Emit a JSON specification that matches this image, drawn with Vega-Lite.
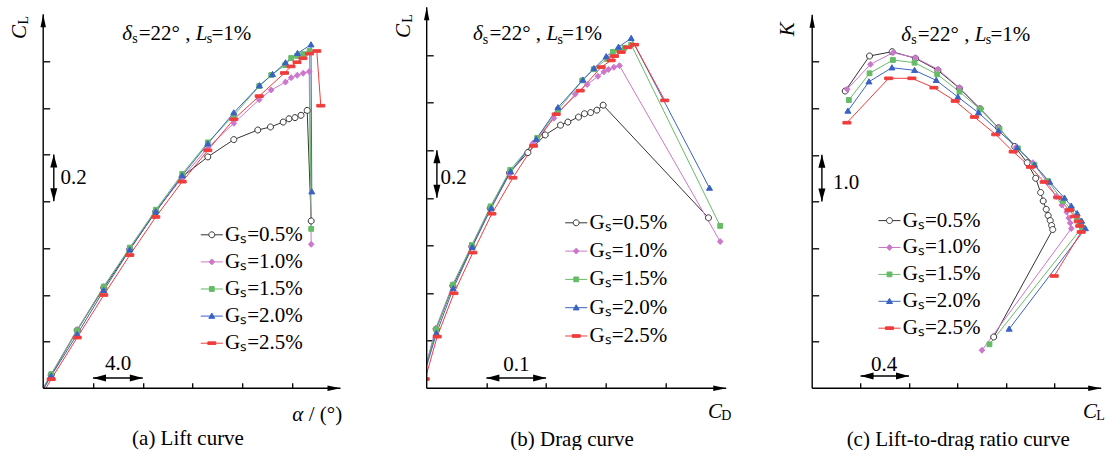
{
"$schema":"https://vega.github.io/schema/vega-lite/v6.json",
"background":"white",
"padding":{"left":8.2,"top":6.3,"right":5,"bottom":0},
"autosize":{"type":"pad"},
"bounds":"flush",
"spacing":85.5,
"config":{
 "view":{"stroke":null},
 "axis":{"labels":false,"domain":false,"grid":false,"ticks":true,"tickColor":"black","tickWidth":1.3},
 "axisX":{"tickSize":-5.5},
 "axisY":{"tickSize":-6.5},
 "text":{"font":"Liberation Serif","fontSize":21,"color":"black","align":"left","baseline":"alphabetic"},
 "rule":{"color":"black","strokeWidth":1.4},
 "legend":{"orient":"none","labelFont":"Liberation Serif","labelFontSize":21,"labelColor":"black","padding":0,"labelOffset":2.8,"symbolOffset":0,"symbolSize":92,"symbolStrokeWidth":1}
},
"resolve":{"scale":{"x":"independent","y":"independent","color":"independent","shape":"independent","fill":"independent","stroke":"independent"},"legend":{"shape":"independent","fill":"independent","stroke":"independent","color":"independent"}},
"datasets":{
"lift":[
{"g":"G\u209b=0.5%","i":0,"alpha":-5.4,"CL":-0.130},{"g":"G\u209b=0.5%","i":1,"alpha":-3.357,"CL":0.057},{"g":"G\u209b=0.5%","i":2,"alpha":-1.269,"CL":0.248},{"g":"G\u209b=0.5%","i":3,"alpha":0.867,"CL":0.430},{"g":"G\u209b=0.5%","i":4,"alpha":2.956,"CL":0.595},{"g":"G\u209b=0.5%","i":5,"alpha":5.044,"CL":0.756},{"g":"G\u209b=0.5%","i":6,"alpha":7.165,"CL":0.905},{"g":"G\u209b=0.5%","i":7,"alpha":9.221,"CL":0.990},{"g":"G\u209b=0.5%","i":8,"alpha":11.309,"CL":1.064},{"g":"G\u209b=0.5%","i":9,"alpha":13.237,"CL":1.105},{"g":"G\u209b=0.5%","i":10,"alpha":14.257,"CL":1.118},{"g":"G\u209b=0.5%","i":11,"alpha":15.277,"CL":1.139},{"g":"G\u209b=0.5%","i":12,"alpha":15.743,"CL":1.153},{"g":"G\u209b=0.5%","i":13,"alpha":16.225,"CL":1.158},{"g":"G\u209b=0.5%","i":14,"alpha":16.707,"CL":1.168},{"g":"G\u209b=0.5%","i":15,"alpha":17.205,"CL":1.189},{"g":"G\u209b=0.5%","i":16,"alpha":17.526,"CL":0.716},
{"g":"G\u209b=1.0%","i":0,"alpha":-5.4,"CL":-0.126},{"g":"G\u209b=1.0%","i":1,"alpha":-3.357,"CL":0.061},{"g":"G\u209b=1.0%","i":2,"alpha":-1.269,"CL":0.252},{"g":"G\u209b=1.0%","i":3,"alpha":0.867,"CL":0.435},{"g":"G\u209b=1.0%","i":4,"alpha":2.956,"CL":0.599},{"g":"G\u209b=1.0%","i":5,"alpha":5.044,"CL":0.759},{"g":"G\u209b=1.0%","i":6,"alpha":7.165,"CL":0.901},{"g":"G\u209b=1.0%","i":7,"alpha":9.221,"CL":1.029},{"g":"G\u209b=1.0%","i":8,"alpha":11.309,"CL":1.134},{"g":"G\u209b=1.0%","i":9,"alpha":13.349,"CL":1.235},{"g":"G\u209b=1.0%","i":10,"alpha":14.313,"CL":1.276},{"g":"G\u209b=1.0%","i":11,"alpha":15.462,"CL":1.310},{"g":"G\u209b=1.0%","i":12,"alpha":15.920,"CL":1.329},{"g":"G\u209b=1.0%","i":13,"alpha":16.402,"CL":1.339},{"g":"G\u209b=1.0%","i":14,"alpha":16.884,"CL":1.348},{"g":"G\u209b=1.0%","i":15,"alpha":17.365,"CL":1.355},{"g":"G\u209b=1.0%","i":16,"alpha":17.526,"CL":0.616},
{"g":"G\u209b=1.5%","i":0,"alpha":-5.4,"CL":-0.127},{"g":"G\u209b=1.5%","i":1,"alpha":-3.357,"CL":0.060},{"g":"G\u209b=1.5%","i":2,"alpha":-1.269,"CL":0.248},{"g":"G\u209b=1.5%","i":3,"alpha":0.867,"CL":0.435},{"g":"G\u209b=1.5%","i":4,"alpha":2.956,"CL":0.602},{"g":"G\u209b=1.5%","i":5,"alpha":5.044,"CL":0.764},{"g":"G\u209b=1.5%","i":6,"alpha":7.165,"CL":0.917},{"g":"G\u209b=1.5%","i":7,"alpha":9.221,"CL":1.052},{"g":"G\u209b=1.5%","i":8,"alpha":11.309,"CL":1.168},{"g":"G\u209b=1.5%","i":9,"alpha":13.349,"CL":1.293},{"g":"G\u209b=1.5%","i":10,"alpha":14.313,"CL":1.340},{"g":"G\u209b=1.5%","i":11,"alpha":15.438,"CL":1.383},{"g":"G\u209b=1.5%","i":12,"alpha":15.920,"CL":1.413},{"g":"G\u209b=1.5%","i":13,"alpha":16.402,"CL":1.422},{"g":"G\u209b=1.5%","i":14,"alpha":16.884,"CL":1.430},{"g":"G\u209b=1.5%","i":15,"alpha":17.39,"CL":1.443},{"g":"G\u209b=1.5%","i":16,"alpha":17.526,"CL":0.682},
{"g":"G\u209b=2.0%","i":0,"alpha":-5.4,"CL":-0.134},{"g":"G\u209b=2.0%","i":1,"alpha":-3.357,"CL":0.053},{"g":"G\u209b=2.0%","i":2,"alpha":-1.269,"CL":0.231},{"g":"G\u209b=2.0%","i":3,"alpha":0.867,"CL":0.419},{"g":"G\u209b=2.0%","i":4,"alpha":2.956,"CL":0.593},{"g":"G\u209b=2.0%","i":5,"alpha":5.044,"CL":0.756},{"g":"G\u209b=2.0%","i":6,"alpha":7.165,"CL":0.910},{"g":"G\u209b=2.0%","i":7,"alpha":9.221,"CL":1.046},{"g":"G\u209b=2.0%","i":8,"alpha":11.309,"CL":1.179},{"g":"G\u209b=2.0%","i":9,"alpha":13.373,"CL":1.295},{"g":"G\u209b=2.0%","i":10,"alpha":14.418,"CL":1.343},{"g":"G\u209b=2.0%","i":11,"alpha":15.462,"CL":1.393},{"g":"G\u209b=2.0%","i":12,"alpha":16.426,"CL":1.433},{"g":"G\u209b=2.0%","i":13,"alpha":17.510,"CL":1.470},{"g":"G\u209b=2.0%","i":14,"alpha":17.574,"CL":0.841},
{"g":"G\u209b=2.5%","i":0,"alpha":-5.4,"CL":-0.148},{"g":"G\u209b=2.5%","i":1,"alpha":-3.357,"CL":0.039},{"g":"G\u209b=2.5%","i":2,"alpha":-1.269,"CL":0.217},{"g":"G\u209b=2.5%","i":3,"alpha":0.867,"CL":0.399},{"g":"G\u209b=2.5%","i":4,"alpha":2.956,"CL":0.570},{"g":"G\u209b=2.5%","i":5,"alpha":5.044,"CL":0.733},{"g":"G\u209b=2.5%","i":6,"alpha":7.165,"CL":0.884},{"g":"G\u209b=2.5%","i":7,"alpha":9.221,"CL":1.018},{"g":"G\u209b=2.5%","i":8,"alpha":11.309,"CL":1.151},{"g":"G\u209b=2.5%","i":9,"alpha":13.349,"CL":1.250},{"g":"G\u209b=2.5%","i":10,"alpha":15.382,"CL":1.349},{"g":"G\u209b=2.5%","i":11,"alpha":15.904,"CL":1.377},{"g":"G\u209b=2.5%","i":12,"alpha":16.386,"CL":1.395},{"g":"G\u209b=2.5%","i":13,"alpha":16.867,"CL":1.412},{"g":"G\u209b=2.5%","i":14,"alpha":17.39,"CL":1.432},{"g":"G\u209b=2.5%","i":15,"alpha":17.976,"CL":1.443},{"g":"G\u209b=2.5%","i":16,"alpha":18.297,"CL":1.209}
],
"drag":[
{"g":"G\u209b=0.5%","i":1,"CD":0.015,"CL":0.057},{"g":"G\u209b=0.5%","i":2,"CD":0.0359,"CL":0.248},{"g":"G\u209b=0.5%","i":3,"CD":0.0639,"CL":0.430},{"g":"G\u209b=0.5%","i":4,"CD":0.0957,"CL":0.595},{"g":"G\u209b=0.5%","i":5,"CD":0.1264,"CL":0.756},{"g":"G\u209b=0.5%","i":6,"CD":0.1587,"CL":0.905},{"g":"G\u209b=0.5%","i":7,"CD":0.1895,"CL":0.990},{"g":"G\u209b=0.5%","i":8,"CD":0.2185,"CL":1.064},{"g":"G\u209b=0.5%","i":9,"CD":0.2441,"CL":1.105},{"g":"G\u209b=0.5%","i":10,"CD":0.2565,"CL":1.118},{"g":"G\u209b=0.5%","i":11,"CD":0.2743,"CL":1.139},{"g":"G\u209b=0.5%","i":12,"CD":0.2843,"CL":1.153},{"g":"G\u209b=0.5%","i":13,"CD":0.2947,"CL":1.158},{"g":"G\u209b=0.5%","i":14,"CD":0.3051,"CL":1.168},{"g":"G\u209b=0.5%","i":15,"CD":0.3156,"CL":1.189},{"g":"G\u209b=0.5%","i":16,"CD":0.4920,"CL":0.716},
{"g":"G\u209b=1.0%","i":1,"CD":0.015,"CL":0.061},{"g":"G\u209b=1.0%","i":2,"CD":0.0351,"CL":0.252},{"g":"G\u209b=1.0%","i":3,"CD":0.0636,"CL":0.435},{"g":"G\u209b=1.0%","i":4,"CD":0.0954,"CL":0.599},{"g":"G\u209b=1.0%","i":5,"CD":0.1272,"CL":0.759},{"g":"G\u209b=1.0%","i":6,"CD":0.1590,"CL":0.901},{"g":"G\u209b=1.0%","i":7,"CD":0.1979,"CL":1.029},{"g":"G\u209b=1.0%","i":8,"CD":0.2331,"CL":1.134},{"g":"G\u209b=1.0%","i":9,"CD":0.2687,"CL":1.235},{"g":"G\u209b=1.0%","i":10,"CD":0.2888,"CL":1.276},{"g":"G\u209b=1.0%","i":11,"CD":0.3068,"CL":1.310},{"g":"G\u209b=1.0%","i":12,"CD":0.3168,"CL":1.329},{"g":"G\u209b=1.0%","i":13,"CD":0.3245,"CL":1.339},{"g":"G\u209b=1.0%","i":14,"CD":0.3336,"CL":1.348},{"g":"G\u209b=1.0%","i":15,"CD":0.3429,"CL":1.355},{"g":"G\u209b=1.0%","i":16,"CD":0.5116,"CL":0.616},
{"g":"G\u209b=1.5%","i":1,"CD":0.015,"CL":0.060},{"g":"G\u209b=1.5%","i":2,"CD":0.0359,"CL":0.248},{"g":"G\u209b=1.5%","i":3,"CD":0.0639,"CL":0.435},{"g":"G\u209b=1.5%","i":4,"CD":0.0957,"CL":0.602},{"g":"G\u209b=1.5%","i":5,"CD":0.1269,"CL":0.764},{"g":"G\u209b=1.5%","i":6,"CD":0.1599,"CL":0.917},{"g":"G\u209b=1.5%","i":7,"CD":0.2051,"CL":1.052},{"g":"G\u209b=1.5%","i":8,"CD":0.2398,"CL":1.168},{"g":"G\u209b=1.5%","i":9,"CD":0.2805,"CL":1.293},{"g":"G\u209b=1.5%","i":10,"CD":0.2997,"CL":1.340},{"g":"G\u209b=1.5%","i":11,"CD":0.3223,"CL":1.383},{"g":"G\u209b=1.5%","i":12,"CD":0.3319,"CL":1.413},{"g":"G\u209b=1.5%","i":13,"CD":0.3413,"CL":1.422},{"g":"G\u209b=1.5%","i":14,"CD":0.3513,"CL":1.430},{"g":"G\u209b=1.5%","i":15,"CD":0.3625,"CL":1.443},{"g":"G\u209b=1.5%","i":16,"CD":0.5116,"CL":0.682},
{"g":"G\u209b=2.0%","i":1,"CD":0.015,"CL":0.053},{"g":"G\u209b=2.0%","i":2,"CD":0.0364,"CL":0.231},{"g":"G\u209b=2.0%","i":3,"CD":0.0644,"CL":0.419},{"g":"G\u209b=2.0%","i":4,"CD":0.0962,"CL":0.593},{"g":"G\u209b=2.0%","i":5,"CD":0.1280,"CL":0.756},{"g":"G\u209b=2.0%","i":6,"CD":0.1607,"CL":0.910},{"g":"G\u209b=2.0%","i":7,"CD":0.2034,"CL":1.046},{"g":"G\u209b=2.0%","i":8,"CD":0.2398,"CL":1.179},{"g":"G\u209b=2.0%","i":9,"CD":0.2816,"CL":1.295},{"g":"G\u209b=2.0%","i":10,"CD":0.3001,"CL":1.343},{"g":"G\u209b=2.0%","i":11,"CD":0.3207,"CL":1.393},{"g":"G\u209b=2.0%","i":12,"CD":0.3413,"CL":1.433},{"g":"G\u209b=2.0%","i":13,"CD":0.3625,"CL":1.470},{"g":"G\u209b=2.0%","i":14,"CD":0.4937,"CL":0.841},
{"g":"G\u209b=2.5%","i":1,"CD":0.0175,"CL":0.039},{"g":"G\u209b=2.5%","i":2,"CD":0.0376,"CL":0.217},{"g":"G\u209b=2.5%","i":3,"CD":0.0656,"CL":0.399},{"g":"G\u209b=2.5%","i":4,"CD":0.0974,"CL":0.570},{"g":"G\u209b=2.5%","i":5,"CD":0.1292,"CL":0.733},{"g":"G\u209b=2.5%","i":6,"CD":0.1644,"CL":0.884},{"g":"G\u209b=2.5%","i":7,"CD":0.1989,"CL":1.018},{"g":"G\u209b=2.5%","i":8,"CD":0.2369,"CL":1.151},{"g":"G\u209b=2.5%","i":9,"CD":0.2771,"CL":1.250},{"g":"G\u209b=2.5%","i":10,"CD":0.3123,"CL":1.349},{"g":"G\u209b=2.5%","i":11,"CD":0.3290,"CL":1.377},{"g":"G\u209b=2.5%","i":12,"CD":0.3346,"CL":1.395},{"g":"G\u209b=2.5%","i":13,"CD":0.3458,"CL":1.412},{"g":"G\u209b=2.5%","i":14,"CD":0.3567,"CL":1.432},{"g":"G\u209b=2.5%","i":15,"CD":0.3681,"CL":1.443},{"g":"G\u209b=2.5%","i":16,"CD":0.4187,"CL":1.209}
],
"ratio":[
{"g":"G\u209b=0.5%","i":1,"CL":-0.527,"K":6.366},{"g":"G\u209b=0.5%","i":2,"CL":-0.326,"K":7.116},{"g":"G\u209b=0.5%","i":3,"CL":-0.139,"K":7.208},{"g":"G\u209b=0.5%","i":4,"CL":0.054,"K":7.066},{"g":"G\u209b=0.5%","i":5,"CL":0.239,"K":6.809},{"g":"G\u209b=0.5%","i":6,"CL":0.417,"K":6.424},{"g":"G\u209b=0.5%","i":7,"CL":0.588,"K":5.987},{"g":"G\u209b=0.5%","i":8,"CL":0.740,"K":5.580},{"g":"G\u209b=0.5%","i":9,"CL":0.874,"K":5.178},{"g":"G\u209b=0.5%","i":10,"CL":0.977,"K":4.831},{"g":"G\u209b=0.5%","i":11,"CL":1.047,"K":4.497},{"g":"G\u209b=0.5%","i":12,"CL":1.088,"K":4.193},{"g":"G\u209b=0.5%","i":13,"CL":1.109,"K":4.011},{"g":"G\u209b=0.5%","i":14,"CL":1.134,"K":3.833},{"g":"G\u209b=0.5%","i":15,"CL":1.150,"K":3.700},{"g":"G\u209b=0.5%","i":16,"CL":1.167,"K":3.593},{"g":"G\u209b=0.5%","i":17,"CL":1.179,"K":3.486},{"g":"G\u209b=0.5%","i":18,"CL":1.188,"K":3.400},{"g":"G\u209b=0.5%","i":19,"CL":0.700,"K":1.099},
{"g":"G\u209b=1.0%","i":1,"CL":-0.511,"K":6.403},{"g":"G\u209b=1.0%","i":2,"CL":-0.318,"K":6.938},{"g":"G\u209b=1.0%","i":3,"CL":-0.133,"K":7.186},{"g":"G\u209b=1.0%","i":4,"CL":0.054,"K":7.079},{"g":"G\u209b=1.0%","i":5,"CL":0.239,"K":6.831},{"g":"G\u209b=1.0%","i":6,"CL":0.417,"K":6.437},{"g":"G\u209b=1.0%","i":7,"CL":0.588,"K":5.996},{"g":"G\u209b=1.0%","i":8,"CL":0.740,"K":5.580},{"g":"G\u209b=1.0%","i":9,"CL":0.886,"K":5.167},{"g":"G\u209b=1.0%","i":10,"CL":1.024,"K":4.831},{"g":"G\u209b=1.0%","i":11,"CL":1.134,"K":4.439},{"g":"G\u209b=1.0%","i":12,"CL":1.217,"K":4.107},{"g":"G\u209b=1.0%","i":13,"CL":1.262,"K":3.925},{"g":"G\u209b=1.0%","i":14,"CL":1.303,"K":3.775},{"g":"G\u209b=1.0%","i":15,"CL":1.320,"K":3.647},{"g":"G\u209b=1.0%","i":16,"CL":1.332,"K":3.540},{"g":"G\u209b=1.0%","i":17,"CL":1.341,"K":3.422},{"g":"G\u209b=1.0%","i":18,"CL":0.603,"K":0.814},
{"g":"G\u209b=1.5%","i":1,"CL":-0.497,"K":6.173},{"g":"G\u209b=1.5%","i":2,"CL":-0.326,"K":6.745},{"g":"G\u209b=1.5%","i":3,"CL":-0.133,"K":7.030},{"g":"G\u209b=1.5%","i":4,"CL":0.046,"K":6.972},{"g":"G\u209b=1.5%","i":5,"CL":0.233,"K":6.724},{"g":"G\u209b=1.5%","i":6,"CL":0.417,"K":6.351},{"g":"G\u209b=1.5%","i":7,"CL":0.588,"K":5.974},{"g":"G\u209b=1.5%","i":8,"CL":0.748,"K":5.546},{"g":"G\u209b=1.5%","i":9,"CL":0.900,"K":5.139},{"g":"G\u209b=1.5%","i":10,"CL":1.037,"K":4.782},{"g":"G\u209b=1.5%","i":11,"CL":1.148,"K":4.439},{"g":"G\u209b=1.5%","i":12,"CL":1.272,"K":4.011},{"g":"G\u209b=1.5%","i":13,"CL":1.341,"K":3.833},{"g":"G\u209b=1.5%","i":14,"CL":1.390,"K":3.640},{"g":"G\u209b=1.5%","i":15,"CL":1.409,"K":3.546},{"g":"G\u209b=1.5%","i":16,"CL":1.429,"K":3.439},{"g":"G\u209b=1.5%","i":17,"CL":0.665,"K":0.942},
{"g":"G\u209b=2.0%","i":1,"CL":-0.505,"K":5.938},{"g":"G\u209b=2.0%","i":2,"CL":-0.331,"K":6.565},{"g":"G\u209b=2.0%","i":3,"CL":-0.141,"K":6.865},{"g":"G\u209b=2.0%","i":4,"CL":0.046,"K":6.809},{"g":"G\u209b=2.0%","i":5,"CL":0.225,"K":6.595},{"g":"G\u209b=2.0%","i":6,"CL":0.404,"K":6.238},{"g":"G\u209b=2.0%","i":7,"CL":0.574,"K":5.902},{"g":"G\u209b=2.0%","i":8,"CL":0.740,"K":5.510},{"g":"G\u209b=2.0%","i":9,"CL":0.894,"K":5.152},{"g":"G\u209b=2.0%","i":10,"CL":1.037,"K":4.782},{"g":"G\u209b=2.0%","i":11,"CL":1.163,"K":4.418},{"g":"G\u209b=2.0%","i":12,"CL":1.285,"K":4.075},{"g":"G\u209b=2.0%","i":13,"CL":1.341,"K":3.904},{"g":"G\u209b=2.0%","i":14,"CL":1.390,"K":3.743},{"g":"G\u209b=2.0%","i":15,"CL":1.427,"K":3.582},{"g":"G\u209b=2.0%","i":16,"CL":1.458,"K":3.422},{"g":"G\u209b=2.0%","i":17,"CL":0.828,"K":1.270},
{"g":"G\u209b=2.5%","i":1,"CL":-0.513,"K":5.687},{"g":"G\u209b=2.5%","i":2,"CL":-0.168,"K":6.638},{"g":"G\u209b=2.5%","i":3,"CL":0.024,"K":6.638},{"g":"G\u209b=2.5%","i":4,"CL":0.206,"K":6.437},{"g":"G\u209b=2.5%","i":5,"CL":0.382,"K":6.152},{"g":"G\u209b=2.5%","i":6,"CL":0.541,"K":5.809},{"g":"G\u209b=2.5%","i":7,"CL":0.717,"K":5.435},{"g":"G\u209b=2.5%","i":8,"CL":0.861,"K":5.066},{"g":"G\u209b=2.5%","i":9,"CL":1.004,"K":4.739},{"g":"G\u209b=2.5%","i":10,"CL":1.117,"K":4.418},{"g":"G\u209b=2.5%","i":11,"CL":1.229,"K":4.086},{"g":"G\u209b=2.5%","i":12,"CL":1.324,"K":3.818},{"g":"G\u209b=2.5%","i":13,"CL":1.369,"K":3.679},{"g":"G\u209b=2.5%","i":14,"CL":1.398,"K":3.572},{"g":"G\u209b=2.5%","i":15,"CL":1.411,"K":3.475},{"g":"G\u209b=2.5%","i":16,"CL":1.423,"K":3.347},{"g":"G\u209b=2.5%","i":17,"CL":1.200,"K":2.405}
]
},
"hconcat":[
{"width":297.3,"height":381,"data":{"values":[{}]},"layer":[
{"data":{"name":"lift"},"mark":{"type":"line","clip":true,"strokeWidth":1},"encoding":{
 "x":{"field":"alpha","type":"quantitative","scale":{"domain":[-4,19.88],"nice":false,"zero":false},"axis":{"values":[0,4,8,12,16],"title":null}},
 "y":{"field":"CL","type":"quantitative","scale":{"domain":[0,1.63],"nice":false,"zero":false},"axis":{"values":[0.2,0.4,0.6,0.8,1,1.2,1.4],"title":null}},
 "color":{"field":"g","type":"nominal","title":null,"scale":{"range":["#333333","#cc77cc","#66bb66","#3a62c4","#f03c3c"]},"legend":null},
 "order":{"field":"i","type":"quantitative"}}},
{"data":{"name":"lift"},"mark":{"type":"point","clip":true,"filled":true,"opacity":1,"size":64,"strokeWidth":1},"encoding":{
 "x":{"field":"alpha","type":"quantitative"},
 "y":{"field":"CL","type":"quantitative"},
 "shape":{"field":"g","type":"nominal","title":null,"scale":{"range":["M0.75,0A0.75,0.75,0,1,1,-0.75,0A0.75,0.75,0,1,1,0.75,0Z","M0,-0.75L0.7,0L0,0.75L-0.7,0Z","M-0.6,-0.6L0.6,-0.6L0.6,0.6L-0.6,0.6Z","M0,-0.75L0.75,0.55L-0.75,0.55Z","M-1,-0.33L1,-0.33L1,0.33L-1,0.33Z"]},"legend":null},
 "fill":{"field":"g","type":"nominal","title":null,"scale":{"domain":["G\u209b=0.5%","G\u209b=1.0%","G\u209b=1.5%","G\u209b=2.0%","G\u209b=2.5%"],"range":["white","#cc77cc","#66bb66","#3a62c4","#f03c3c"]}},
 "stroke":{"field":"g","type":"nominal","title":null,"scale":{"domain":["G\u209b=0.5%","G\u209b=1.0%","G\u209b=1.5%","G\u209b=2.0%","G\u209b=2.5%"],"range":["#333333","#cc77cc","#66bb66","#3a62c4","#f03c3c"]},"legend":{"orient":"none","legendX":158.1,"legendY":217,"rowPadding":5.1,"encoding":{"symbols":{"shape":{"value":{"expr":"datum.value === 'G\u209b=0.5%' ? 'M-2.3,0L-0.62,0M0.62,0L2.3,0M0.62,0A0.62,0.62,0,1,1,-0.62,0A0.62,0.62,0,1,1,0.62,0Z' : datum.value === 'G\u209b=1.0%' ? 'M-2.3,0L2.3,0M0,-0.62L0.58,0L0,0.62L-0.58,0Z' : datum.value === 'G\u209b=1.5%' ? 'M-2.3,0L2.3,0M-0.5,-0.5L0.5,-0.5L0.5,0.5L-0.5,0.5Z' : datum.value === 'G\u209b=2.0%' ? 'M-2.3,0L2.3,0M0,-0.62L0.62,0.46L-0.62,0.46Z' : 'M-2.3,0L2.3,0M-0.83,-0.28L0.83,-0.28L0.83,0.28L-0.83,0.28Z'"}},"size":{"value":92}}}}}}},
{"mark":"rule","encoding":{"x":{"datum":-4},"y":{"datum":0},"y2":{"datum":1.6}}},
{"mark":"rule","encoding":{"x":{"datum":-4},"x2":{"datum":19.88},"y":{"datum":0}}},
{"mark":{"type":"point","shape":"M0,0L-0.5,2.4L0.5,2.4Z","size":117,"filled":true,"color":"black","opacity":1,"strokeWidth":0},"encoding":{"x":{"datum":-4},"y":{"datum":1.6}}},
{"mark":{"type":"point","shape":"M0,0L-2.4,-0.5L-2.4,0.5Z","size":117,"filled":true,"color":"black","opacity":1,"strokeWidth":0},"encoding":{"x":{"datum":19.88},"y":{"datum":0}}},
{"mark":"rule","encoding":{"x":{"datum":0},"x2":{"datum":4},"y":{"datum":0.0441}}},
{"mark":{"type":"point","shape":"M0,0L2.4,-0.65L2.4,0.65Z","size":117,"filled":true,"color":"black","opacity":1,"strokeWidth":0},"encoding":{"x":{"datum":0},"y":{"datum":0.0441}}},
{"mark":{"type":"point","shape":"M0,0L-2.4,-0.65L-2.4,0.65Z","size":117,"filled":true,"color":"black","opacity":1,"strokeWidth":0},"encoding":{"x":{"datum":4},"y":{"datum":0.0441}}},
{"mark":"rule","encoding":{"x":{"datum":-3.149},"y":{"datum":0.8},"y2":{"datum":1.0}}},
{"mark":{"type":"point","shape":"M0,0L-0.65,2.4L0.65,2.4Z","size":117,"filled":true,"color":"black","opacity":1,"strokeWidth":0},"encoding":{"x":{"datum":-3.149},"y":{"datum":1.0}}},
{"mark":{"type":"point","shape":"M0,0L-0.65,-2.4L0.65,-2.4Z","size":117,"filled":true,"color":"black","opacity":1,"strokeWidth":0},"encoding":{"x":{"datum":-3.149},"y":{"datum":0.8}}},
{"mark":{"type":"text","text":"4.0","align":"center"},"encoding":{"x":{"datum":2.008},"y":{"datum":0.0783}}},
{"mark":{"type":"text","text":"0.2"},"encoding":{"x":{"datum":-2.61},"y":{"datum":0.8727}}},
{"mark":{"type":"text","text":"C","fontStyle":"italic","angle":270,"align":"center"},"encoding":{"x":{"datum":-5.42},"y":{"datum":1.5243}}},
{"mark":{"type":"text","text":"L","fontSize":14,"angle":270,"align":"center"},"encoding":{"x":{"datum":-5.261},"y":{"datum":1.5748}}},
{"mark":{"type":"text","text":"\u03b1","fontStyle":"italic"},"encoding":{"x":{"datum":16.0},"y":{"datum":-0.1378}}},
{"mark":{"type":"text","text":"/ (\u00b0)","align":"right"},"encoding":{"x":{"datum":20.02},"y":{"datum":-0.1378}}},
{"mark":{"type":"text","text":"\u03b4","fontStyle":"italic"},"encoding":{"x":{"datum":2.345},"y":{"datum":1.4922}}},
{"mark":{"type":"text","text":"s","fontSize":14},"encoding":{"x":{"datum":3.149},"y":{"datum":1.4772}}},
{"mark":{"type":"text","text":"=22\u00b0 ,"},"encoding":{"x":{"datum":3.671},"y":{"datum":1.4922}}},
{"mark":{"type":"text","text":"L","fontStyle":"italic"},"encoding":{"x":{"datum":8.248},"y":{"datum":1.4922}}},
{"mark":{"type":"text","text":"s","fontSize":14},"encoding":{"x":{"datum":9.132},"y":{"datum":1.4772}}},
{"mark":{"type":"text","text":"=1%","align":"right"},"encoding":{"x":{"datum":12.707},"y":{"datum":1.4922}}},
{"mark":{"type":"text","text":"(a) Lift curve","align":"center"},"encoding":{"x":{"datum":7.631},"y":{"datum":-0.2447}}}
]},
{"width":300,"height":381,"data":{"values":[{}]},"layer":[
{"data":{"name":"drag"},"mark":{"type":"line","clip":true,"strokeWidth":1},"encoding":{
 "x":{"field":"CD","type":"quantitative","scale":{"domain":[0.02,0.5225],"nice":false,"zero":false},"axis":{"values":[0.12,0.22,0.32,0.42],"title":null}},
 "y":{"field":"CL","type":"quantitative","scale":{"domain":[0,1.6],"nice":false,"zero":false},"axis":{"values":[0.2,0.4,0.6,0.8,1,1.2,1.4],"title":null}},
 "color":{"field":"g","type":"nominal","title":null,"scale":{"range":["#333333","#cc77cc","#66bb66","#3a62c4","#f03c3c"]},"legend":null},
 "order":{"field":"i","type":"quantitative"}}},
{"data":{"name":"drag"},"mark":{"type":"point","clip":true,"filled":true,"opacity":1,"size":64,"strokeWidth":1},"encoding":{
 "x":{"field":"CD","type":"quantitative"},
 "y":{"field":"CL","type":"quantitative"},
 "shape":{"field":"g","type":"nominal","title":null,"scale":{"range":["M0.75,0A0.75,0.75,0,1,1,-0.75,0A0.75,0.75,0,1,1,0.75,0Z","M0,-0.75L0.7,0L0,0.75L-0.7,0Z","M-0.6,-0.6L0.6,-0.6L0.6,0.6L-0.6,0.6Z","M0,-0.75L0.75,0.55L-0.75,0.55Z","M-1,-0.33L1,-0.33L1,0.33L-1,0.33Z"]},"legend":null},
 "fill":{"field":"g","type":"nominal","title":null,"scale":{"domain":["G\u209b=0.5%","G\u209b=1.0%","G\u209b=1.5%","G\u209b=2.0%","G\u209b=2.5%"],"range":["white","#cc77cc","#66bb66","#3a62c4","#f03c3c"]}},
 "stroke":{"field":"g","type":"nominal","title":null,"scale":{"domain":["G\u209b=0.5%","G\u209b=1.0%","G\u209b=1.5%","G\u209b=2.0%","G\u209b=2.5%"],"range":["#333333","#cc77cc","#66bb66","#3a62c4","#f03c3c"]},"legend":{"orient":"none","legendX":139,"legendY":205,"rowPadding":6.3,"encoding":{"symbols":{"shape":{"value":{"expr":"datum.value === 'G\u209b=0.5%' ? 'M-2.3,0L-0.62,0M0.62,0L2.3,0M0.62,0A0.62,0.62,0,1,1,-0.62,0A0.62,0.62,0,1,1,0.62,0Z' : datum.value === 'G\u209b=1.0%' ? 'M-2.3,0L2.3,0M0,-0.62L0.58,0L0,0.62L-0.58,0Z' : datum.value === 'G\u209b=1.5%' ? 'M-2.3,0L2.3,0M-0.5,-0.5L0.5,-0.5L0.5,0.5L-0.5,0.5Z' : datum.value === 'G\u209b=2.0%' ? 'M-2.3,0L2.3,0M0,-0.62L0.62,0.46L-0.62,0.46Z' : 'M-2.3,0L2.3,0M-0.83,-0.28L0.83,-0.28L0.83,0.28L-0.83,0.28Z'"}},"size":{"value":92}}}}}}},
{"mark":"rule","encoding":{"x":{"datum":0.02},"y":{"datum":0},"y2":{"datum":1.6}}},
{"mark":"rule","encoding":{"x":{"datum":0.02},"x2":{"datum":0.5217},"y":{"datum":0}}},
{"mark":{"type":"point","shape":"M0,0L-0.5,2.4L0.5,2.4Z","size":117,"filled":true,"color":"black","opacity":1,"strokeWidth":0},"encoding":{"x":{"datum":0.02},"y":{"datum":1.6}}},
{"mark":{"type":"point","shape":"M0,0L-2.4,-0.5L-2.4,0.5Z","size":117,"filled":true,"color":"black","opacity":1,"strokeWidth":0},"encoding":{"x":{"datum":0.5217},"y":{"datum":0}}},
{"mark":"rule","encoding":{"x":{"datum":0.12},"x2":{"datum":0.22},"y":{"datum":0.0433}}},
{"mark":{"type":"point","shape":"M0,0L2.4,-0.65L2.4,0.65Z","size":117,"filled":true,"color":"black","opacity":1,"strokeWidth":0},"encoding":{"x":{"datum":0.12},"y":{"datum":0.0433}}},
{"mark":{"type":"point","shape":"M0,0L-2.4,-0.65L-2.4,0.65Z","size":117,"filled":true,"color":"black","opacity":1,"strokeWidth":0},"encoding":{"x":{"datum":0.22},"y":{"datum":0.0433}}},
{"mark":"rule","encoding":{"x":{"datum":0.0371},"y":{"datum":0.8},"y2":{"datum":1.0}}},
{"mark":{"type":"point","shape":"M0,0L-0.65,2.4L0.65,2.4Z","size":117,"filled":true,"color":"black","opacity":1,"strokeWidth":0},"encoding":{"x":{"datum":0.0371},"y":{"datum":1.0}}},
{"mark":{"type":"point","shape":"M0,0L-0.65,-2.4L0.65,-2.4Z","size":117,"filled":true,"color":"black","opacity":1,"strokeWidth":0},"encoding":{"x":{"datum":0.0371},"y":{"datum":0.8}}},
{"mark":{"type":"text","text":"0.1","align":"center"},"encoding":{"x":{"datum":0.17},"y":{"datum":0.0727}}},
{"mark":{"type":"text","text":"0.2"},"encoding":{"x":{"datum":0.0431},"y":{"datum":0.8568}}},
{"mark":{"type":"text","text":"C","fontStyle":"italic","angle":270,"align":"center"},"encoding":{"x":{"datum":-0.0088},"y":{"datum":1.5006}}},
{"mark":{"type":"text","text":"L","fontSize":14,"angle":270,"align":"center"},"encoding":{"x":{"datum":-0.0051},"y":{"datum":1.5531}}},
{"mark":{"type":"text","text":"C","fontStyle":"italic"},"encoding":{"x":{"datum":0.4910},"y":{"datum":-0.1235}}},
{"mark":{"type":"text","text":"D","fontSize":14},"encoding":{"x":{"datum":0.5133},"y":{"datum":-0.1352}}},
{"mark":{"type":"text","text":"\u03b4","fontStyle":"italic"},"encoding":{"x":{"datum":0.0974},"y":{"datum":1.4616}}},
{"mark":{"type":"text","text":"s","fontSize":14},"encoding":{"x":{"datum":0.1141},"y":{"datum":1.4469}}},
{"mark":{"type":"text","text":"=22\u00b0 ,"},"encoding":{"x":{"datum":0.1250},"y":{"datum":1.4616}}},
{"mark":{"type":"text","text":"L","fontStyle":"italic"},"encoding":{"x":{"datum":0.2206},"y":{"datum":1.4616}}},
{"mark":{"type":"text","text":"s","fontSize":14},"encoding":{"x":{"datum":0.2390},"y":{"datum":1.4469}}},
{"mark":{"type":"text","text":"=1%","align":"right"},"encoding":{"x":{"datum":0.3135},"y":{"datum":1.4616}}},
{"mark":{"type":"text","text":"(b) Drag curve","align":"center"},"encoding":{"x":{"datum":0.2634},"y":{"datum":-0.2423}}}
]},
{"width":289,"height":381,"data":{"values":[{}]},"layer":[
{"data":{"name":"ratio"},"mark":{"type":"line","clip":true,"strokeWidth":1},"encoding":{
 "x":{"field":"CL","type":"quantitative","scale":{"domain":[-0.8,1.5884],"nice":false,"zero":false},"axis":{"values":[-0.4,0,0.4,0.8,1.2],"title":null}},
 "y":{"field":"K","type":"quantitative","scale":{"domain":[0,8.1585],"nice":false,"zero":false},"axis":{"values":[1,2,3,4,5,6,7],"title":null}},
 "color":{"field":"g","type":"nominal","title":null,"scale":{"range":["#333333","#cc77cc","#66bb66","#3a62c4","#f03c3c"]},"legend":null},
 "order":{"field":"i","type":"quantitative"}}},
{"data":{"name":"ratio"},"mark":{"type":"point","clip":true,"filled":true,"opacity":1,"size":64,"strokeWidth":1},"encoding":{
 "x":{"field":"CL","type":"quantitative"},
 "y":{"field":"K","type":"quantitative"},
 "shape":{"field":"g","type":"nominal","title":null,"scale":{"range":["M0.75,0A0.75,0.75,0,1,1,-0.75,0A0.75,0.75,0,1,1,0.75,0Z","M0,-0.75L0.7,0L0,0.75L-0.7,0Z","M-0.6,-0.6L0.6,-0.6L0.6,0.6L-0.6,0.6Z","M0,-0.75L0.75,0.55L-0.75,0.55Z","M-1,-0.33L1,-0.33L1,0.33L-1,0.33Z"]},"legend":null},
 "fill":{"field":"g","type":"nominal","title":null,"scale":{"domain":["G\u209b=0.5%","G\u209b=1.0%","G\u209b=1.5%","G\u209b=2.0%","G\u209b=2.5%"],"range":["white","#cc77cc","#66bb66","#3a62c4","#f03c3c"]}},
 "stroke":{"field":"g","type":"nominal","title":null,"scale":{"domain":["G\u209b=0.5%","G\u209b=1.0%","G\u209b=1.5%","G\u209b=2.0%","G\u209b=2.5%"],"range":["#333333","#cc77cc","#66bb66","#3a62c4","#f03c3c"]},"legend":{"orient":"none","legendX":66.8,"legendY":202.8,"rowPadding":4.9,"encoding":{"symbols":{"shape":{"value":{"expr":"datum.value === 'G\u209b=0.5%' ? 'M-2.3,0L-0.62,0M0.62,0L2.3,0M0.62,0A0.62,0.62,0,1,1,-0.62,0A0.62,0.62,0,1,1,0.62,0Z' : datum.value === 'G\u209b=1.0%' ? 'M-2.3,0L2.3,0M0,-0.62L0.58,0L0,0.62L-0.58,0Z' : datum.value === 'G\u209b=1.5%' ? 'M-2.3,0L2.3,0M-0.5,-0.5L0.5,-0.5L0.5,0.5L-0.5,0.5Z' : datum.value === 'G\u209b=2.0%' ? 'M-2.3,0L2.3,0M0,-0.62L0.62,0.46L-0.62,0.46Z' : 'M-2.3,0L2.3,0M-0.83,-0.28L0.83,-0.28L0.83,0.28L-0.83,0.28Z'"}},"size":{"value":92}}}}}}},
{"mark":"rule","encoding":{"x":{"datum":-0.8},"y":{"datum":0},"y2":{"datum":8.0}}},
{"mark":"rule","encoding":{"x":{"datum":-0.8},"x2":{"datum":1.5884},"y":{"datum":0}}},
{"mark":{"type":"point","shape":"M0,0L-0.5,2.4L0.5,2.4Z","size":117,"filled":true,"color":"black","opacity":1,"strokeWidth":0},"encoding":{"x":{"datum":-0.8},"y":{"datum":8.0}}},
{"mark":{"type":"point","shape":"M0,0L-2.4,-0.5L-2.4,0.5Z","size":117,"filled":true,"color":"black","opacity":1,"strokeWidth":0},"encoding":{"x":{"datum":1.5884},"y":{"datum":0}}},
{"mark":"rule","encoding":{"x":{"datum":-0.4},"x2":{"datum":0},"y":{"datum":0.2634}}},
{"mark":{"type":"point","shape":"M0,0L2.4,-0.65L2.4,0.65Z","size":117,"filled":true,"color":"black","opacity":1,"strokeWidth":0},"encoding":{"x":{"datum":-0.4},"y":{"datum":0.2634}}},
{"mark":{"type":"point","shape":"M0,0L-2.4,-0.65L-2.4,0.65Z","size":117,"filled":true,"color":"black","opacity":1,"strokeWidth":0},"encoding":{"x":{"datum":0},"y":{"datum":0.2634}}},
{"mark":"rule","encoding":{"x":{"datum":-0.7198},"y":{"datum":4},"y2":{"datum":5}}},
{"mark":{"type":"point","shape":"M0,0L-0.65,2.4L0.65,2.4Z","size":117,"filled":true,"color":"black","opacity":1,"strokeWidth":0},"encoding":{"x":{"datum":-0.7198},"y":{"datum":5}}},
{"mark":{"type":"point","shape":"M0,0L-0.65,-2.4L0.65,-2.4Z","size":117,"filled":true,"color":"black","opacity":1,"strokeWidth":0},"encoding":{"x":{"datum":-0.7198},"y":{"datum":4}}},
{"mark":{"type":"text","text":"0.4","align":"center"},"encoding":{"x":{"datum":-0.205},"y":{"datum":0.3704}}},
{"mark":{"type":"text","text":"1.0"},"encoding":{"x":{"datum":-0.6289},"y":{"datum":4.2677}}},
{"mark":{"type":"text","text":"K","fontStyle":"italic","angle":270,"align":"center"},"encoding":{"x":{"datum":-0.9463},"y":{"datum":7.6874}}},
{"mark":{"type":"text","text":"C","fontStyle":"italic"},"encoding":{"x":{"datum":1.4372},"y":{"datum":-0.636}}},
{"mark":{"type":"text","text":"L","fontSize":14},"encoding":{"x":{"datum":1.5471},"y":{"datum":-0.6895}}},
{"mark":{"type":"text","text":"\u03b4","fontStyle":"italic"},"encoding":{"x":{"datum":-0.0645},"y":{"datum":7.437}}},
{"mark":{"type":"text","text":"s","fontSize":14},"encoding":{"x":{"datum":0.0182},"y":{"datum":7.362}}},
{"mark":{"type":"text","text":"=22\u00b0 ,"},"encoding":{"x":{"datum":0.0719},"y":{"datum":7.437}}},
{"mark":{"type":"text","text":"L","fontStyle":"italic"},"encoding":{"x":{"datum":0.5429},"y":{"datum":7.437}}},
{"mark":{"type":"text","text":"s","fontSize":14},"encoding":{"x":{"datum":0.6339},"y":{"datum":7.362}}},
{"mark":{"type":"text","text":"=1%","align":"right"},"encoding":{"x":{"datum":1.0017},"y":{"datum":7.437}}},
{"mark":{"type":"text","text":"(c) Lift-to-drag ratio curve","align":"center"},"encoding":{"x":{"datum":0.4066},"y":{"datum":-1.2355}}}
]}
]
}
